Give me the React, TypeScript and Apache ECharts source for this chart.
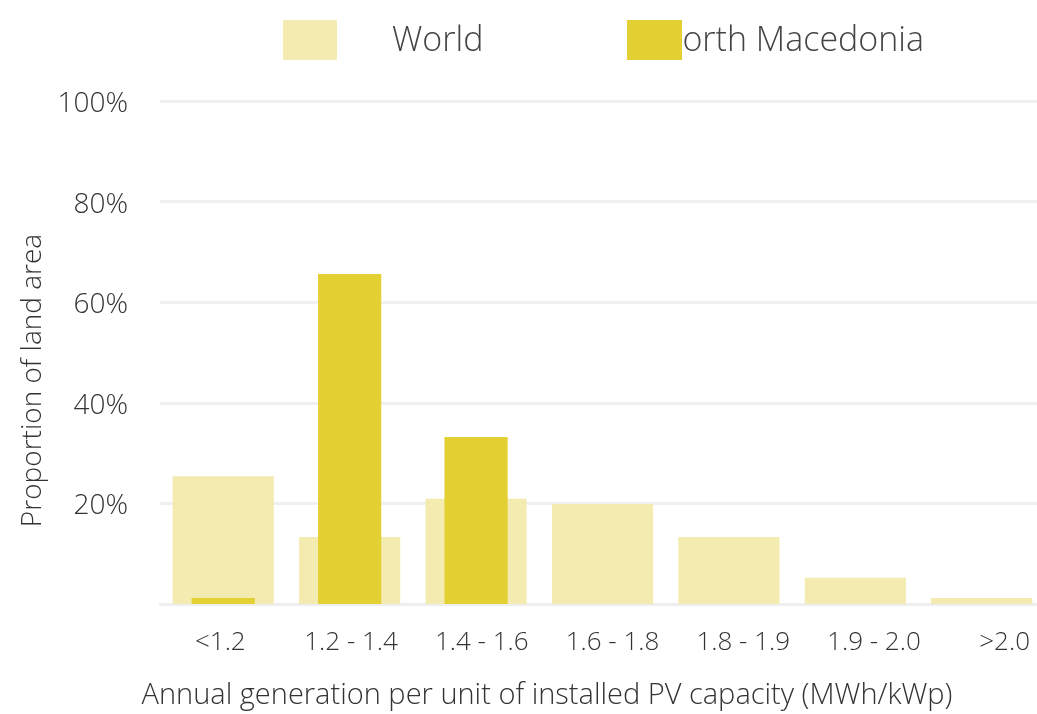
import React, { useEffect, useRef } from "react";
import * as echarts from "echarts";

const categories = ["<1.2", "1.2 - 1.4", "1.4 - 1.6", "1.6 - 1.8", "1.8 - 1.9", "1.9 - 2.0", ">2.0"];
const worldValues = [25.4, 13.3, 20.9, 19.9, 13.3, 5.2, 1.2];
const macedoniaValues = [1.2, 65.6, 33.2, 0, 0, 0, 0];
const seriesNames = ["World", "North Macedonia"];
const yTicks = [0, 20, 40, 60, 80, 100];

const FONT = "Open Sans";
const FW = 300;
const TEXT = "#333333";
const WORLD_C = "#f3ebb0";
const NM_C = "#e3d033";

export default function App() {
  const ref = useRef<HTMLDivElement>(null);
  useEffect(() => {
    document.body.style.margin = "0";
    document.documentElement.style.overflow = "hidden";
    const chart = echarts.init(ref.current!, null, { renderer: "svg" });
    chart.setOption({
      animation: false,
      grid: [
        { left: 160, width: 885, top: 101, bottom: 110, outerBoundsMode: "none", containLabel: false },
        { left: 155, width: 915, top: 101, bottom: 110, outerBoundsMode: "none", containLabel: false },
      ],
      xAxis: [
        {
          type: "category",
          gridIndex: 0,
          data: categories,
          axisLine: { show: true, lineStyle: { color: "#eeeeee", width: 3 } },
          axisTick: { show: false },
          axisLabel: { show: false },
        },
        {
          type: "category",
          gridIndex: 0,
          data: categories,
          show: false,
        },
        {
          type: "category",
          gridIndex: 1,
          data: categories,
          axisLine: { show: false },
          axisTick: { show: false },
          axisLabel: { interval: 0, color: TEXT, fontFamily: FONT, fontWeight: FW, fontSize: 26, margin: 23 },
          name: "Annual generation per unit of installed PV capacity (MWh/kWp)",
          nameLocation: "middle",
          nameGap: 74,
          nameTextStyle: { color: TEXT, fontFamily: FONT, fontWeight: FW, fontSize: 29, padding: [0, 131, 0, 0] },
        },
      ],
      yAxis: [
        {
          type: "value",
          gridIndex: 0,
          min: yTicks[0],
          max: yTicks[yTicks.length - 1],
          interval: 20,
          axisLine: { show: false },
          axisTick: { show: false },
          splitLine: { lineStyle: { color: "#f0f0f0", width: 3 } },
          axisLabel: {
            color: TEXT,
            fontFamily: FONT,
            fontWeight: FW,
            fontSize: 28,
            margin: 32,
            formatter: (v: number) => (v === 0 ? "" : v + "%"),
          },
          name: "Proportion of land area",
          nameLocation: "middle",
          nameGap: 116,
          nameTextStyle: { color: TEXT, fontFamily: FONT, fontWeight: FW, fontSize: 28, padding: [0, 56, 0, 0] },
        },
        {
          type: "value",
          gridIndex: 1,
          show: false,
          splitLine: { show: false },
        },
      ],
      series: [
        {
          name: seriesNames[0],
          type: "bar",
          xAxisIndex: 0,
          yAxisIndex: 0,
          data: worldValues,
          barWidth: "80%",
          itemStyle: { color: WORLD_C },
        },
        {
          name: seriesNames[1],
          type: "bar",
          xAxisIndex: 1,
          yAxisIndex: 0,
          data: macedoniaValues,
          barWidth: "50%",
          itemStyle: { color: NM_C },
        },
      ],
      graphic: [
        { type: "rect", left: 283, top: 20, shape: { width: 54, height: 40 }, style: { fill: WORLD_C }, z: 10 },
        {
          type: "text",
          left: 392,
          top: 17,
          style: { text: seriesNames[0], fontFamily: FONT, fontWeight: FW, fontSize: 34, fill: "#444", lineHeight: 42 },
          z: 5,
        },
        {
          type: "text",
          right: 1037 - 924,
          top: 17,
          style: { text: seriesNames[1], fontFamily: FONT, fontWeight: FW, fontSize: 34, fill: "#444", lineHeight: 42 },
          z: 5,
        },
        { type: "rect", left: 627, top: 20, shape: { width: 55, height: 40 }, style: { fill: NM_C }, z: 10 },
      ],
    });
    return () => chart.dispose();
  }, []);
  return <div ref={ref} style={{ position: "fixed", left: 0, top: 0, width: 1037, height: 714 }} />;
}
